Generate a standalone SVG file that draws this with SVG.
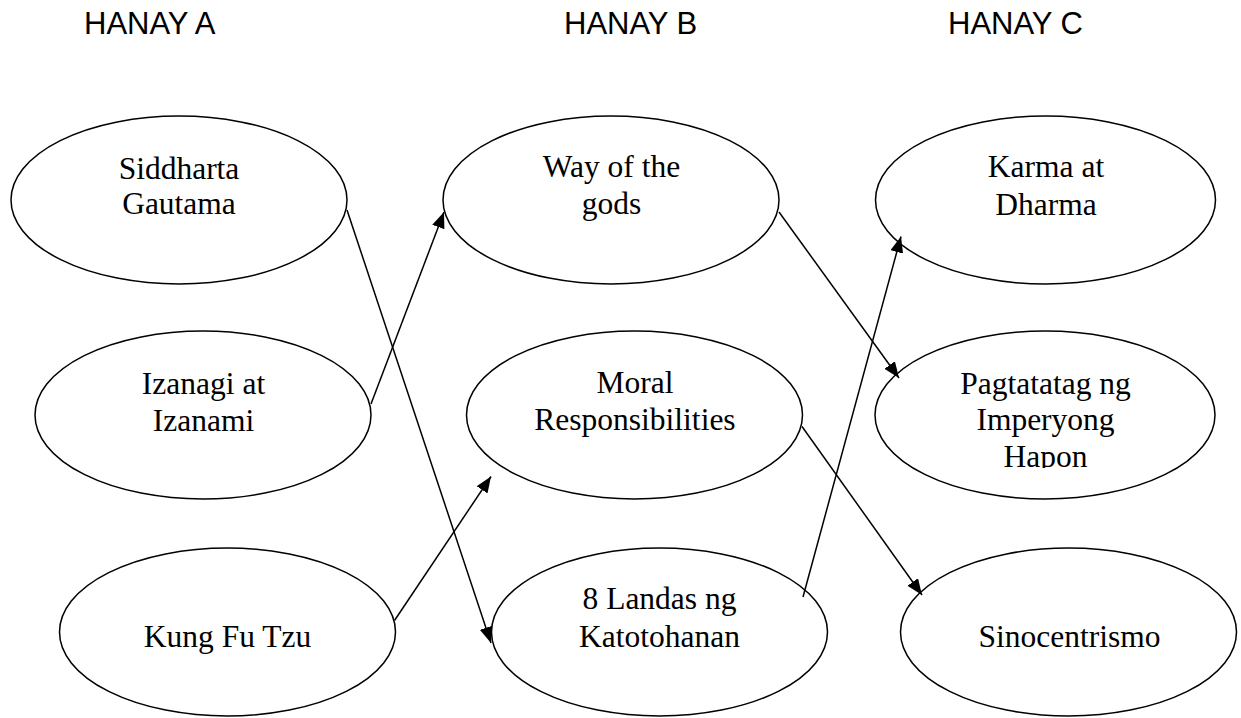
<svg xmlns="http://www.w3.org/2000/svg" width="1241" height="718" viewBox="0 0 1241 718">
<style>
.node ellipse{fill:#fff;stroke:#000;stroke-width:1.5}
.node text{font-family:"Liberation Serif","Times New Roman",serif;font-size:31.5px;fill:#000;text-anchor:middle}
.hdr{font-family:"Liberation Sans",Arial,sans-serif;font-size:31px;fill:#000}
.conn line{stroke:#000;stroke-width:1.5;fill:none}
</style>
<defs>
<marker id="arr" markerUnits="userSpaceOnUse" markerWidth="18" markerHeight="14" refX="16" refY="6.5" orient="auto">
<path d="M0,0 L16,6.5 L0,13 z" fill="#000"/>
</marker>
<clipPath id="clipHapon"><rect x="875" y="330" width="345" height="138"/></clipPath>
</defs>
<rect width="1241" height="718" fill="#fff"/>
<g id="headers">
<text class="hdr" x="84" y="34">HANAY A</text>
<text class="hdr" x="564" y="34">HANAY B</text>
<text class="hdr" x="948" y="34">HANAY C</text>
</g>
<g id="n-siddharta" class="node">
<ellipse cx="179" cy="200" rx="168" ry="84"/>
<text x="179" y="179">Siddharta</text>
<text x="179" y="214">Gautama</text>
</g>
<g id="n-izanagi" class="node">
<ellipse cx="203" cy="415" rx="168" ry="84"/>
<text x="203.5" y="394">Izanagi at</text>
<text x="203.5" y="431">Izanami</text>
</g>
<g id="n-kungfutzu" class="node">
<ellipse cx="227.5" cy="632" rx="168" ry="84"/>
<text x="227.5" y="647">Kung Fu Tzu</text>
</g>
<g id="n-way" class="node">
<ellipse cx="611" cy="200" rx="168" ry="84"/>
<text x="611.5" y="177">Way of the</text>
<text x="611.5" y="214">gods</text>
</g>
<g id="n-moral" class="node">
<ellipse cx="634.5" cy="415" rx="168" ry="84"/>
<text x="635" y="393">Moral</text>
<text x="635" y="430">Responsibilities</text>
</g>
<g id="n-landas" class="node">
<ellipse cx="659.5" cy="632" rx="168" ry="84"/>
<text x="659.5" y="609">8 Landas ng</text>
<text x="659.5" y="646.5">Katotohanan</text>
</g>
<g id="n-karma" class="node">
<ellipse cx="1045.5" cy="200" rx="170" ry="84"/>
<text x="1046" y="177">Karma at</text>
<text x="1046" y="215">Dharma</text>
</g>
<g id="n-pagtatatag" class="node">
<ellipse cx="1045" cy="415" rx="170" ry="84"/>
<text x="1045.5" y="393.5">Pagtatatag ng</text>
<text x="1045.5" y="430">Imperyong</text>
<text x="1045.5" y="467" clip-path="url(#clipHapon)">Hapon</text>
</g>
<g id="n-sinocentrismo" class="node">
<ellipse cx="1068.5" cy="632" rx="168" ry="84"/>
<text x="1069.5" y="646.5">Sinocentrismo</text>
</g>
<g id="connectors" class="conn">
<line x1="347" y1="210" x2="491" y2="643" marker-end="url(#arr)"/>
<line x1="371" y1="404" x2="444" y2="212" marker-end="url(#arr)"/>
<line x1="394.5" y1="620.5" x2="491" y2="476.5" marker-end="url(#arr)"/>
<line x1="779" y1="212" x2="899" y2="378" marker-end="url(#arr)"/>
<line x1="802" y1="426.5" x2="922" y2="595" marker-end="url(#arr)"/>
<line x1="803" y1="597" x2="901" y2="236.5" marker-end="url(#arr)"/>
</g>
</svg>
